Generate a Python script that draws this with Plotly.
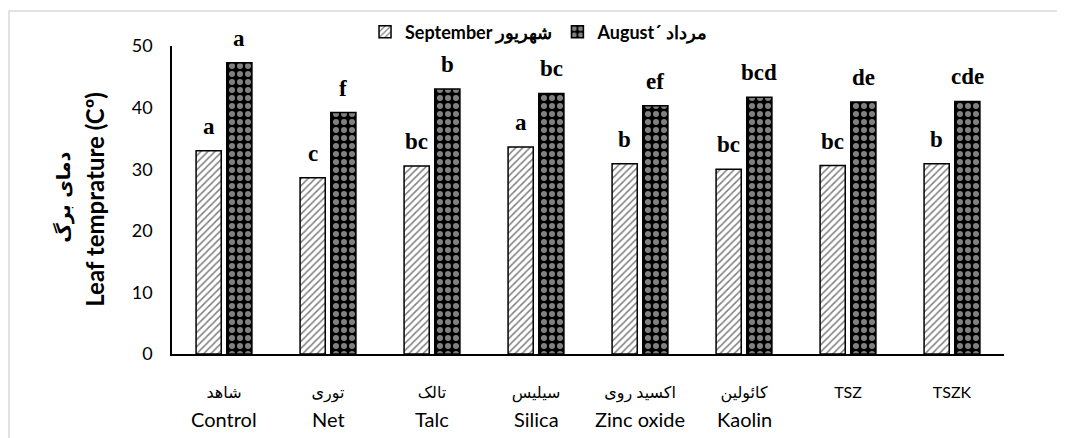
import plotly.graph_objects as go

categories_fa = ["شاهد", "توری", "تالک", "سیلیس", "اکسید روی", "کائولین", "TSZ", "TSZK"]
categories_en = ["Control", "Net", "Talc", "Silica", "Zinc oxide", "Kaolin", "", ""]
september = [33.0, 28.6, 30.5, 33.6, 30.9, 30.0, 30.6, 30.9]
august = [47.3, 39.2, 43.0, 42.3, 40.3, 41.7, 40.9, 41.0]
sept_letters = ["a", "c", "bc", "a", "b", "bc", "bc", "b"]
aug_letters = ["a", "f", "b", "bc", "ef", "bcd", "de", "cde"]
y_ticks = [0, 10, 20, 30, 40, 50]

x = list(range(len(categories_fa)))
BARGAP = 0.41
GROUPGAP = 0.18
slot = (1 - BARGAP) / 2

# page has an 8px body margin: figure coordinates are page coordinates minus 8
ML, MT, PW, PH = 164, 38, 832, 308.5
W, H = 1065, 438

fig = go.Figure()
fig.add_trace(go.Bar(
    x=x, y=september, name="September شهریور",
    marker=dict(color="white", line=dict(color="black", width=1.5),
                pattern=dict(shape="/", fgcolor="black", bgcolor="white", size=5, solidity=0.3)),
))
fig.add_trace(go.Bar(
    x=x, y=august, name="August´ مرداد",
    marker=dict(color="black", line=dict(color="black", width=1.5),
                pattern=dict(shape=".", fgcolor="white", bgcolor="black", size=8, solidity=0.45)),
))

letter_font = dict(family="Liberation Serif", size=23, color="black", weight="bold")
for i in x:
    fig.add_annotation(x=i - slot / 2, y=september[i], text=sept_letters[i], showarrow=False,
                       yanchor="bottom", yshift=10, font=letter_font)
    fig.add_annotation(x=i + slot / 2, y=august[i], text=aug_letters[i], showarrow=False,
                       yanchor="bottom", yshift=10, font=letter_font)
    if categories_en[i]:
        fig.add_annotation(x=i, y=0, yref="paper", text=categories_en[i], showarrow=False,
                           yanchor="middle", yshift=-65, font=dict(family="Lato", size=20, color="black"))

# y-axis titles (two lines)
fig.add_annotation(xref="paper", yref="paper", x=(87 - ML) / PW, y=(MT + PH - 192) / PH,
                   text="Leaf temprature (Cº)", textangle=-90, showarrow=False,
                   xanchor="center", yanchor="middle",
                   font=dict(family="Lato", size=24, color="black", weight="bold"))
fig.add_annotation(xref="paper", yref="paper", x=(56 - ML) / PW, y=(MT + PH - 189) / PH,
                   text="دمای برگ", textangle=-90, showarrow=False,
                   xanchor="center", yanchor="middle",
                   font=dict(family="DejaVu Sans", size=19, color="black", weight="bold"))

fig.update_layout(
    width=W, height=H,
    margin=dict(l=ML, r=W - ML - PW, t=MT, b=H - MT - PH, autoexpand=False),
    paper_bgcolor="white", plot_bgcolor="white",
    barmode="group", bargap=BARGAP, bargroupgap=GROUPGAP,
    font=dict(family="Lato", color="black"),
    legend=dict(orientation="h", x=0.232, xanchor="left", y=(MT + PH - 24) / PH, yanchor="middle",
                font=dict(size=18, weight="bold", family="Lato"),
                traceorder="normal", bgcolor="rgba(0,0,0,0)"),
    showlegend=True,
)
fig.update_xaxes(
    tickmode="array", tickvals=x, ticktext=categories_fa, range=[-0.5, len(x) - 0.5],
    showline=True, linecolor="black", linewidth=1.5, ticks="", showgrid=False,
    ticklabelstandoff=23, automargin=False,
    tickfont=dict(size=16, family="Lato, DejaVu Sans", color="black"),
)
fig.update_yaxes(
    range=[0, 50], tickvals=y_ticks, showline=True, linecolor="black", linewidth=1.5,
    showgrid=False, ticks="", zeroline=False, automargin=False, ticklabelstandoff=14,
    tickfont=dict(size=18, family="Lato", color="black"),
)
# outer chart-area border
fig.add_shape(type="rect", xref="paper", yref="paper",
              x0=(1 - ML) / PW, x1=(W + 20 - ML) / PW,
              y0=(MT + PH - (H + 20)) / PH, y1=(MT + PH - 3) / PH,
              line=dict(color="#d9d9d9", width=1.5), fillcolor="rgba(0,0,0,0)", layer="below")

fig.write_html("out.html")
